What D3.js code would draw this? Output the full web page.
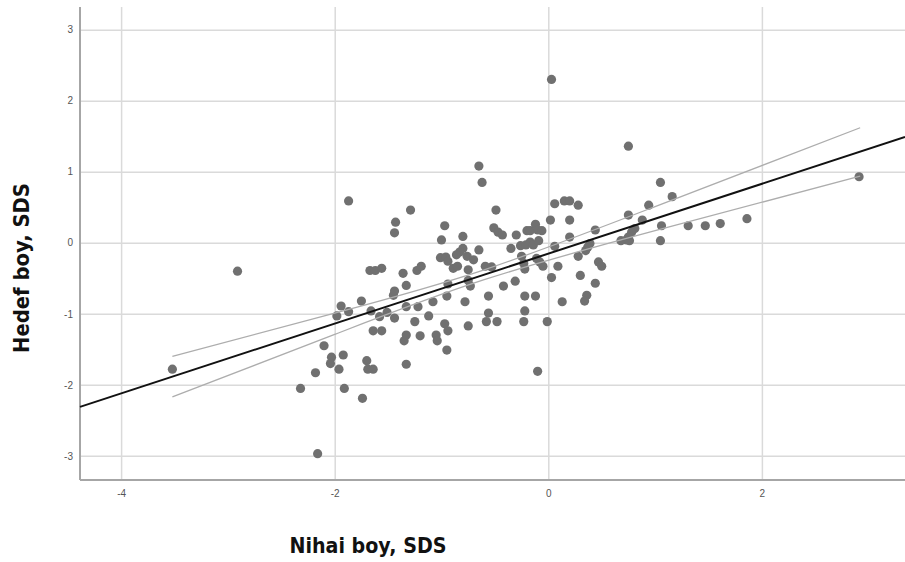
<!DOCTYPE html>
<html>
<head>
<meta charset="utf-8">
<script src="https://cdn.jsdelivr.net/npm/d3@7"></script>
<style>
    body { margin: 0; background: #fff; }
    svg { display: block; }
</style>
</head>
<body>
<div id="scatter"></div>
<script>
// Nihai boy (x) and Hedef boy (y), SDS
const nihaiBoy = [
    -3.52, -2.91, -2.32, -2.18, -2.16, -2.10, -2.03, -2.04, -1.92, -1.96, -1.91, -1.74, -1.70, -1.69, -1.64,
    -1.33, -1.87, -1.29, -1.43, -1.44, -1.67, -1.62, -1.56, -1.36, -1.23, -1.19, -1.33, -1.45, -1.44, -1.75,
    -1.94, -1.87, -1.98, -1.66, -1.58, -1.51, -1.44, -1.33, -1.22, -1.64, -1.56, -1.25, -1.33, -1.35, -1.20,
    -0.65, -0.62, -0.49, -0.97, -0.51, -0.47, -0.43, -0.80, -1.00, -0.30, -0.20, -0.17, -0.12, -0.10, -0.06,
    0.02, 0.06, 0.15, 0.20, -0.35, -0.26, -0.21, -0.17, -0.14, -0.09, -0.65, -0.80, -0.83, -0.86, -0.76,
    -0.70, -1.01, -0.96, -0.94,
    -0.89, -0.85, -0.75, -0.59, -0.53, -0.25, -0.23, -0.22, -0.11, -0.08, -0.05, 0.06, 0.09, 0.03, -0.31,
    -0.42, -0.75, -0.73,
    -0.94, -0.95, -1.08, -0.78, -0.56, -0.22, -0.12, 0.13, -1.12, -0.97, -0.94, -1.05, -1.04, -0.95, -0.75,
    -0.56, -0.58, -0.48, -0.22, -0.23, -0.01, -0.10, 0.03,
    0.75, 1.05, 0.28, 1.16, 0.94, 0.20, 0.75, 0.88, 1.86, 1.61, 1.47, 1.31, 1.06, 0.81, 0.78,
    0.75, 0.73, 0.68, 0.76, 1.05, 0.44, 0.20, 0.39, 0.37, 0.35, 0.28, 0.47, 0.50, 0.30, 0.44,
    0.36, 0.34, 2.91
];
const hedefBoy = [
    -1.78, -0.40, -2.05, -1.83, -2.97, -1.45, -1.61, -1.70, -1.58, -1.78, -2.05, -2.19, -1.66, -1.78, -1.78,
    -1.71, 0.59, 0.46, 0.29, 0.14, -0.39, -0.39, -0.36, -0.43, -0.39, -0.33, -0.60, -0.74, -0.68, -0.82,
    -0.89, -0.97, -1.03, -0.96, -1.04, -0.98, -1.06, -0.90, -0.90, -1.24, -1.24, -1.11, -1.30, -1.38, -1.31,
    1.08, 0.85, 0.46, 0.24, 0.21, 0.15, 0.11, 0.09, 0.04, 0.11, 0.17, 0.17, 0.26, 0.18, 0.17,
    0.32, 0.55, 0.59, 0.59, -0.08, -0.04, -0.03, 0.01, -0.03, 0.03, -0.10, -0.08, -0.13, -0.17, -0.19,
    -0.24, -0.21, -0.20, -0.26,
    -0.36, -0.33, -0.38, -0.33, -0.34, -0.19, -0.29, -0.37, -0.22, -0.27, -0.33, -0.05, -0.33, -0.49, -0.54,
    -0.61, -0.53, -0.61,
    -0.58, -0.75, -0.83, -0.83, -0.75, -0.75, -0.75, -0.83, -1.03, -1.14, -1.24, -1.30, -1.38, -1.51, -1.17,
    -0.99, -1.11, -1.11, -0.96, -1.11, -1.11, -1.81, 2.30,
    1.36, 0.85, 0.53, 0.65, 0.53, 0.32, 0.39, 0.32, 0.34, 0.27, 0.24, 0.24, 0.24, 0.20, 0.15,
    0.08, 0.04, 0.03, 0.03, 0.03, 0.18, 0.08, -0.01, -0.06, -0.11, -0.19, -0.27, -0.33, -0.46, -0.57,
    -0.74, -0.82, 0.93
];

// fit line and 95% band of the mean
const fitSlope = 0.492;
const fitIntercept = -0.153;
const ciX = [-3.52, -2.0, -0.6, 1.0, 2.92];
const ciUpper = [-1.60, -0.99, -0.38, 0.51, 1.62];
const ciLower = [-2.17, -1.29, -0.52, 0.17, 0.94];

const xTicks = [-4, -2, 0, 2];
const yTicks = [-3, -2, -1, 0, 1, 2, 3];
const xDomain = [-4.385, 3.34];
const yDomain = [-3.34, 3.32];

const width = 905,
    height = 562,
    plotLeft = 80,
    plotRight = 905,
    plotTop = 7,
    plotBottom = 480;

const xScale = d3.scaleLinear().domain(xDomain).range([plotLeft, plotRight]);
const yScale = d3.scaleLinear().domain(yDomain).range([plotBottom, plotTop]);
const fmt = d => String(d);

const svg = d3.select('#scatter')
    .append('svg')
    .attr('width', width)
    .attr('height', height);

// grid
svg.append('g')
    .attr('transform', 'translate(0,' + plotBottom + ')')
    .call(d3.axisBottom(xScale).tickValues(xTicks).tickSize(-(plotBottom - plotTop)).tickFormat(''))
    .call(g => g.select('.domain').remove())
    .call(g => g.selectAll('line').attr('stroke', '#dadada').attr('stroke-width', 1.5));

svg.append('g')
    .attr('transform', 'translate(' + plotLeft + ',0)')
    .call(d3.axisLeft(yScale).tickValues(yTicks).tickSize(-(plotRight - plotLeft)).tickFormat(''))
    .call(g => g.select('.domain').remove())
    .call(g => g.selectAll('line').attr('stroke', '#dadada').attr('stroke-width', 1.5));

// axis lines
svg.append('line')
    .attr('x1', plotLeft).attr('x2', plotLeft)
    .attr('y1', plotTop).attr('y2', plotBottom)
    .attr('stroke', '#a6a6a6').attr('stroke-width', 2);
svg.append('line')
    .attr('x1', plotLeft).attr('x2', plotRight)
    .attr('y1', plotBottom).attr('y2', plotBottom)
    .attr('stroke', '#a6a6a6').attr('stroke-width', 2);

// tick labels
svg.append('g')
    .attr('transform', 'translate(' + plotLeft + ',0)')
    .call(d3.axisLeft(yScale).tickValues(yTicks).tickSize(0).tickPadding(7).tickFormat(fmt))
    .call(g => g.select('.domain').remove())
    .call(g => g.selectAll('text')
        .attr('fill', '#555')
        .style('font-family', 'Liberation Sans, Arial, sans-serif')
        .style('font-size', '10px'));

svg.append('g')
    .attr('transform', 'translate(0,' + plotBottom + ')')
    .call(d3.axisBottom(xScale).tickValues(xTicks).tickSize(0).tickPadding(10).tickFormat(fmt))
    .call(g => g.select('.domain').remove())
    .call(g => g.selectAll('text')
        .attr('fill', '#555')
        .style('font-family', 'Liberation Sans, Arial, sans-serif')
        .style('font-size', '10px'));

// points
svg.append('g')
    .selectAll('circle')
    .data(nihaiBoy)
    .enter()
    .append('circle')
    .attr('cx', d => xScale(d))
    .attr('cy', (d, i) => yScale(hedefBoy[i]))
    .attr('r', 4.6)
    .attr('fill', '#707070');

// confidence band
const ciLine = d3.line()
    .x(d => xScale(d[0]))
    .y(d => yScale(d[1]))
    .curve(d3.curveNatural);

[ciUpper, ciLower].forEach(band => {
    svg.append('path')
        .datum(ciX.map((x, i) => [x, band[i]]))
        .attr('d', ciLine)
        .attr('fill', 'none')
        .attr('stroke', '#adadad')
        .attr('stroke-width', 1.3);
});

// fit line
svg.append('path')
    .datum(xDomain.map(x => [x, fitIntercept + fitSlope * x]))
    .attr('d', d3.line().x(d => xScale(d[0])).y(d => yScale(d[1])))
    .attr('fill', 'none')
    .attr('stroke', '#111')
    .attr('stroke-width', 2);

// titles
svg.append('text')
    .attr('x', 368)
    .attr('y', 553)
    .attr('text-anchor', 'middle')
    .attr('textLength', 157)
    .attr('lengthAdjust', 'spacingAndGlyphs')
    .style('font-family', 'DejaVu Sans, sans-serif')
    .style('font-weight', 'bold')
    .style('font-size', '21px')
    .attr('fill', '#111')
    .text('Nihai boy, SDS');

svg.append('text')
    .attr('transform', 'translate(29,268) rotate(-90)')
    .attr('text-anchor', 'middle')
    .attr('textLength', 170)
    .attr('lengthAdjust', 'spacingAndGlyphs')
    .style('font-family', 'DejaVu Sans, sans-serif')
    .style('font-weight', 'bold')
    .style('font-size', '21px')
    .attr('fill', '#111')
    .text('Hedef boy, SDS');
</script>
</body>
</html>
